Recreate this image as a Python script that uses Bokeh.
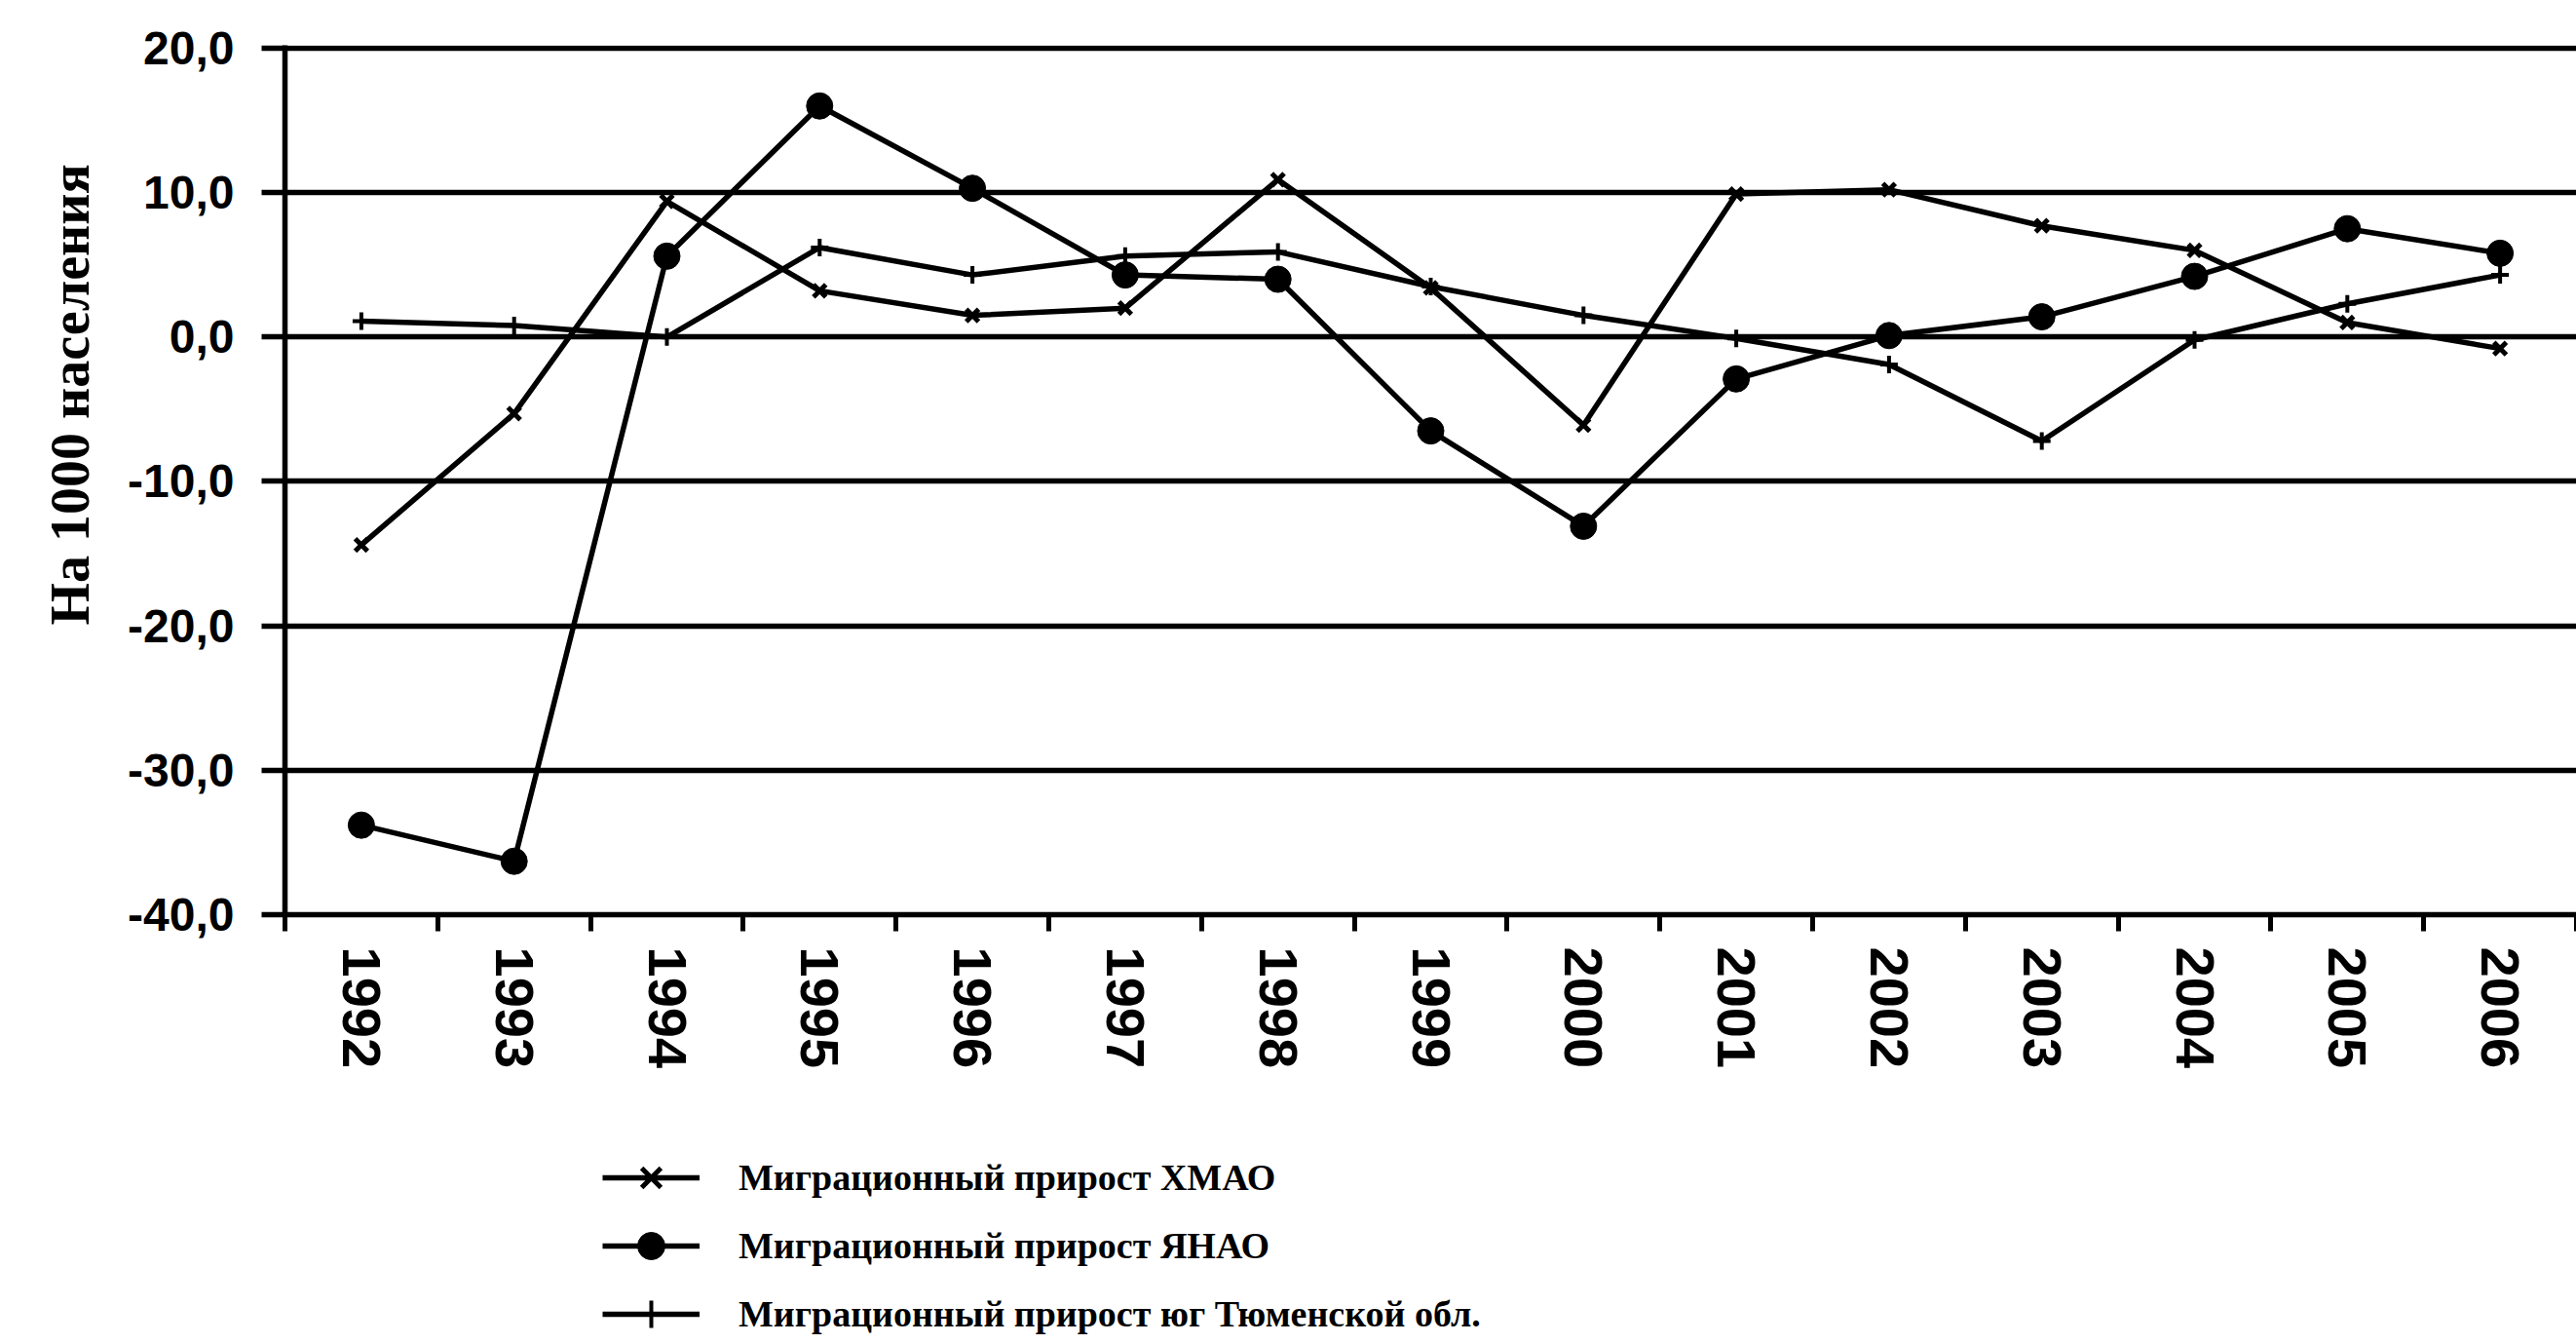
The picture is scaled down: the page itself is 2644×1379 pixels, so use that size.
from bokeh.plotting import figure
from bokeh.layouts import column
from bokeh.models import (Range1d, FixedTicker, CustomJSTickFormatter, Legend, LegendItem, Title)
from bokeh.embed import file_html
from bokeh.resources import INLINE

# ---- data ----
years = [1992, 1993, 1994, 1995, 1996, 1997, 1998, 1999, 2000, 2001, 2002, 2003, 2004, 2005, 2006]
khmao = [-14.4, -5.3, 9.4, 3.2, 1.5, 2.0, 10.9, 3.4, -6.1, 9.9, 10.2, 7.7, 6.0, 1.0, -0.8]
yanao = [-33.8, -36.3, 5.6, 16.0, 10.3, 4.3, 4.0, -6.5, -13.1, -2.9, 0.1, 1.4, 4.2, 7.5, 5.8]
south = [1.1, 0.8, 0.0, 6.2, 4.3, 5.6, 5.9, 3.5, 1.5, -0.1, -1.9, -7.2, -0.2, 2.3, 4.3]
y_ticks = [-40, -30, -20, -10, 0, 10, 20]
y_label = "На 1000 населения"
names = ["Миграционный прирост ХМАО",
         "Миграционный прирост ЯНАО",
         "Миграционный прирост юг Тюменской обл."]

W = 2644
H1 = 1160
H2 = 1379 - H1
FRAME_BOTTOM = 938
p = figure(width=W, height=H1, output_backend="svg", toolbar_location=None,
           x_range=Range1d(years[0] - 0.5, years[-1] + 0.5),
           y_range=Range1d(min(y_ticks), max(y_ticks) + 0.2),
           min_border_left=292, min_border_right=0, min_border_top=46,
           min_border_bottom=H1 - FRAME_BOTTOM, background_fill_color="white",
           border_fill_color="white")
p.outline_line_color = None
p.xgrid.grid_line_color = None
p.ygrid.grid_line_color = "black"
p.ygrid.grid_line_width = 5.5
p.ygrid.grid_line_alpha = 1.0

# y axis
ya = p.yaxis[0]
ya.ticker = FixedTicker(ticks=y_ticks, minor_ticks=[])
ya.formatter = CustomJSTickFormatter(code="return tick.toFixed(1).replace('.', ',');")
ya.axis_line_width = 5.5
ya.axis_line_color = "black"
ya.major_tick_line_width = 5.5
ya.major_tick_line_color = "black"
ya.major_tick_out = 24
ya.major_tick_in = 0
ya.minor_tick_line_color = None
ya.major_label_standoff = 28
ya.major_label_text_font = "Liberation Sans"
ya.major_label_text_font_style = "bold"
ya.major_label_text_font_size = "48px"
ya.major_label_text_color = "black"

# y title (left of the axis, shifted upward as in the reference)
ytitle = Title(text=y_label, align="left", offset=297, standoff=52,
               text_font="Liberation Serif", text_font_style="bold",
               text_font_size="56px", text_color="black")
p.add_layout(ytitle, "left")

# x axis: labels at year centres, boundary ticks as minor ticks
xa = p.xaxis[0]
bounds = [y - 0.5 for y in years] + [years[-1] + 0.5]
xa.ticker = FixedTicker(ticks=years, minor_ticks=bounds)
xa.axis_line_width = 5.5
xa.axis_line_color = "black"
xa.major_tick_line_color = None
xa.major_tick_out = 0
xa.major_tick_in = 0
xa.minor_tick_line_color = "black"
xa.minor_tick_line_width = 5
xa.minor_tick_out = 17
xa.minor_tick_in = 0
xa.major_label_orientation = "vertical"
xa.major_label_standoff = 16
xa.major_label_text_font = "Liberation Sans"
xa.major_label_text_font_style = "bold"
xa.major_label_text_font_size = "56px"
xa.major_label_text_color = "black"

# series
series = [khmao, yanao, south]
line_kw = dict(line_color="black", line_width=5.5)
mk = [dict(marker="x", size=18, line_color="black", line_width=5),
      dict(marker="circle", size=27, fill_color="black", line_color="black"),
      dict(marker="cross", size=18, line_color="black", line_width=4)]
for ys, m in zip(series, mk):
    p.line(years, ys, **line_kw)
    p.scatter(years, ys, **m)

# legend panel below (separate figure holding only the legend;
# its ranges keep the series themselves out of view)
q = figure(width=W, height=H2, output_backend="svg", toolbar_location=None,
           x_axis_type=None, y_axis_type=None,
           x_range=Range1d(0, 1), y_range=Range1d(100, 101),
           min_border_left=292, min_border_right=0, min_border_top=0, min_border_bottom=0,
           background_fill_color="white", border_fill_color="white")
q.outline_line_color = None
q.grid.visible = False
items = []
for name, ys, m in zip(names, series, mk):
    lr = q.line(years, ys, **line_kw)
    sr = q.scatter(years, ys, **m)
    items.append(LegendItem(label=name, renderers=[lr, sr]))

legend = Legend(items=items, location=(326, -4), orientation="vertical",
                glyph_width=100, glyph_height=70, label_height=70,
                label_standoff=40, spacing=0, padding=0, margin=0,
                label_text_font="Liberation Serif", label_text_font_style="bold",
                label_text_font_size="38px", label_text_color="black",
                border_line_color=None, background_fill_alpha=0)
q.add_layout(legend, "center")

open("out.html", "w").write(file_html(column(p, q, spacing=0), INLINE))
